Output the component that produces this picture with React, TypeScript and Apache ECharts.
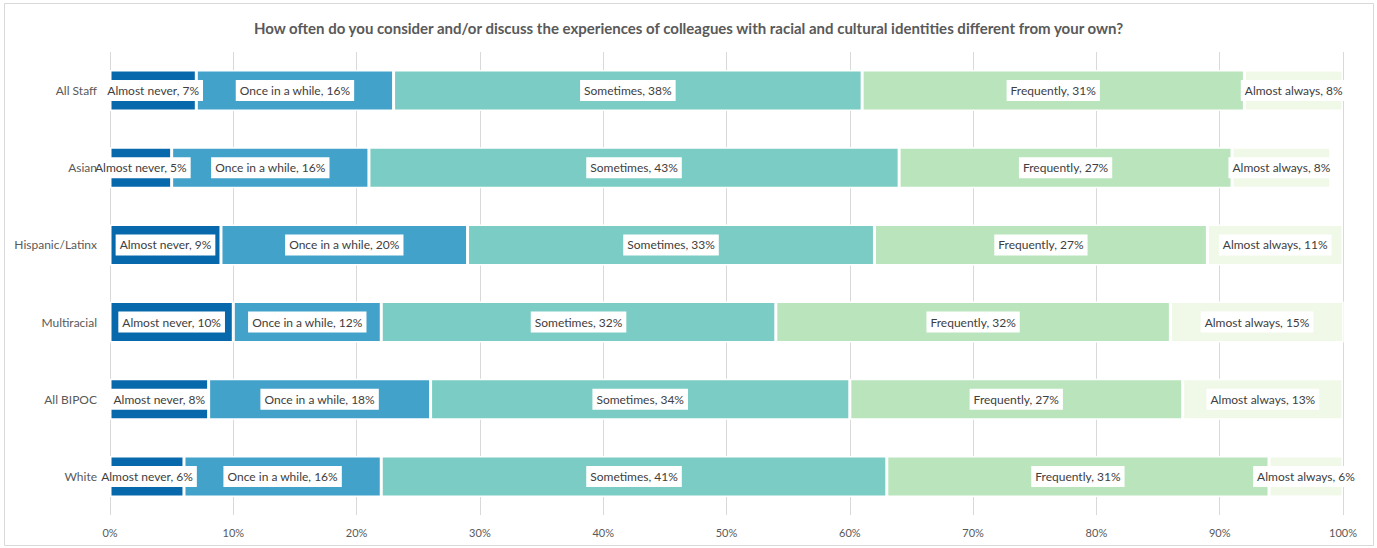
import React, { useEffect, useRef } from "react";
import * as echarts from "echarts";

const categories = ["All Staff", "Asian", "Hispanic/Latinx", "Multiracial", "All BIPOC", "White"];
const seriesNames = ["Almost never", "Once in a while", "Sometimes", "Frequently", "Almost always"];
const almostNever = [7, 5, 9, 10, 8, 6];
const onceInAWhile = [16, 16, 20, 12, 18, 16];
const sometimes = [38, 43, 33, 32, 34, 41];
const frequently = [31, 27, 27, 32, 27, 31];
const almostAlways = [8, 8, 11, 15, 13, 6];
const colors = ["#0868ac", "#43a2ca", "#7bccc4", "#bae4bc", "#f0f9e8"];
const title = "How often do you consider and/or discuss the experiences of colleagues with racial and cultural identities different from your own?";

const FONT = "Lato, 'Open Sans', sans-serif";

export default function App() {
  const ref = useRef<HTMLDivElement>(null);
  useEffect(() => {
    if (!ref.current) return;
    const chart = echarts.init(ref.current, null, { renderer: "svg" });
    const values = [almostNever, onceInAWhile, sometimes, frequently, almostAlways];
    chart.setOption({
      animation: false,
      textStyle: { fontFamily: FONT },
      title: {
        text: title,
        left: "center",
        top: 15,
        textStyle: { fontSize: 15, fontWeight: "bold", color: "#595959", fontFamily: FONT },
      },
      graphic: [
        {
          type: "rect",
          shape: { x: 4.5, y: 3.5, width: 1369, height: 542 },
          style: { fill: "none", stroke: "#d9d9d9", lineWidth: 1 },
          silent: true,
        },
      ],
      grid: { left: 110, right: 34, top: 52, bottom: 33, containLabel: false },
      xAxis: {
        type: "value",
        min: 0,
        max: 100,
        interval: 10,
        axisLabel: { formatter: "{value}%", color: "#595959", fontSize: 11, margin: 12, fontFamily: FONT },
        splitLine: { show: true, lineStyle: { color: "#d9d9d9", width: 1 } },
        axisLine: { show: false },
        axisTick: { show: false },
      },
      yAxis: {
        type: "category",
        data: categories,
        inverse: true,
        z: 10,
        axisLabel: { color: "#595959", fontSize: 12, margin: 13, fontFamily: FONT },
        axisLine: { show: false },
        axisTick: { show: false },
      },
      series: seriesNames.map((name, i) => ({
        name,
        type: "bar",
        stack: "total",
        barWidth: 41,
        data: values[i],
        itemStyle: { color: colors[i], borderColor: "#ffffff", borderWidth: 1.5 },
        label: {
          show: true,
          position: "inside",
          formatter: (p: any) => `${p.seriesName}, ${p.value}%`,
          color: "#404040",
          fontSize: 12,
          fontFamily: FONT,
          backgroundColor: "#ffffff",
          padding: [5, 4, 4, 4],
        },
      })),
    });
    return () => chart.dispose();
  }, []);
  return (
    <div style={{ position: "absolute", left: 0, top: 0, width: 1377, height: 548, background: "#fff" }}>
      <div ref={ref} style={{ width: 1377, height: 548 }} />
    </div>
  );
}
